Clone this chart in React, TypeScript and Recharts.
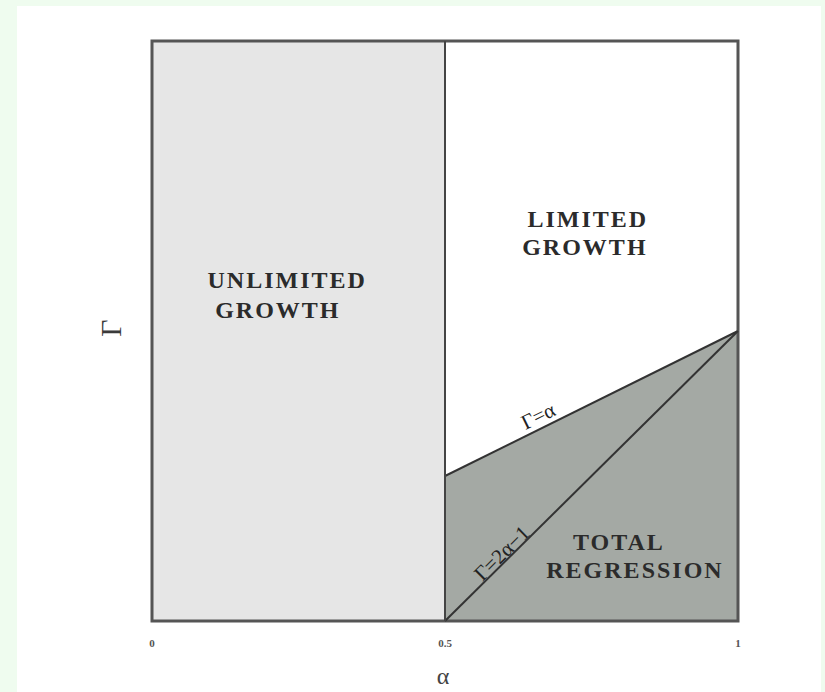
import React from 'react';
import {
  ComposedChart,
  XAxis,
  YAxis,
  Area,
  Line,
  Scatter,
  ReferenceArea,
  ReferenceLine,
  Label,
} from 'recharts';

// α values at which the boundary lines are defined
const alphaPoints = [0.5, 1];
// Γ = α  (upper edge of the total-regression region)
const gammaEqualsAlpha = [0.5, 1];
// Γ = 2α − 1
const gammaTwoAlphaMinusOne = [0, 1];

const alphaTicks = [0, 0.5, 1];
const alphaTickLabels = ['0', '0.5', '1'];

// region names, one entry per text line (anchored at the line's baseline centre)
const regionLines = ['UNLIMITED', 'GROWTH', 'LIMITED', 'GROWTH', 'TOTAL', 'REGRESSION'];
const regionLineAlpha = [0.229, 0.213, 0.742, 0.737, 0.795, 0.8225];
const regionLineGamma = [1.148, 1.045, 1.359, 1.262, 0.245, 0.148];

const lineNames = ['Γ=α', 'Γ=2α−1'];
const lineNameAlpha = [0.659, 0.597];
const lineNameGamma = [0.707, 0.234];
const lineNameAngle = [-26, -44.5];

const chartData = alphaPoints.map((a, i) => ({
  alpha: a,
  edge: gammaEqualsAlpha[i],
  total: gammaTwoAlphaMinusOne[i],
}));

const regionData = regionLines.map((text, i) => ({
  alpha: regionLineAlpha[i],
  gamma: regionLineGamma[i],
  text,
}));

const lineNameData = lineNames.map((name, i) => ({
  alpha: lineNameAlpha[i],
  gamma: lineNameGamma[i],
  name,
  angle: lineNameAngle[i],
}));

const SERIF = '"Liberation Serif", "Times New Roman", "DejaVu Serif", serif';

const RegionLabel = (props: any) => {
  const { cx, cy, payload } = props;
  if (cx == null || cy == null) return null;
  return (
    <text
      x={cx + 1}
      y={cy}
      textAnchor="middle"
      fontFamily={SERIF}
      fontWeight="bold"
      fontSize={24}
      letterSpacing={2}
      fill="#2b2b2b"
    >
      {payload.text}
    </text>
  );
};

const LineNameLabel = (props: any) => {
  const { cx, cy, payload } = props;
  if (cx == null || cy == null) return null;
  return (
    <text
      x={cx}
      y={cy}
      textAnchor="middle"
      dominantBaseline="central"
      transform={`rotate(${payload.angle} ${cx} ${cy})`}
      fontFamily={SERIF}
      fontSize={21}
      fill="#222"
    >
      {payload.name}
    </text>
  );
};

const AlphaTick = (props: any) => {
  const { x, y, payload } = props;
  const idx = alphaTicks.indexOf(payload.value);
  return (
    <text
      x={x}
      y={y + 22}
      textAnchor="middle"
      dominantBaseline="central"
      fontFamily={SERIF}
      fontWeight="bold"
      fontSize={11}
      fill="#555"
    >
      {idx >= 0 ? alphaTickLabels[idx] : payload.value}
    </text>
  );
};

const AlphaAxisLabel = (props: any) => {
  const vb = props.viewBox || { x: 152, y: 621, width: 586, height: 71 };
  const cx = vb.x + vb.width / 2 - 2;
  const cy = vb.y + 55;
  return (
    <text x={cx} y={cy} textAnchor="middle" dominantBaseline="central" fontFamily={SERIF} fontSize={24} fill="#444">
      α
    </text>
  );
};

const GammaAxisLabel = (props: any) => {
  const vb = props.viewBox || { x: 0, y: 41, width: 152, height: 580 };
  const cx = vb.x + vb.width - 42;
  const cy = vb.y + vb.height / 2 - 3;
  return (
    <text
      x={cx}
      y={cy}
      textAnchor="middle"
      dominantBaseline="central"
      transform={`rotate(-90 ${cx} ${cy})`}
      fontFamily={SERIF}
      fontSize={30}
      fill="#3a3a3a"
    >
      Γ
    </text>
  );
};

export default function App() {
  return (
    <div
      style={{
        position: 'absolute',
        left: 0,
        top: 0,
        width: 825,
        height: 692,
        background: '#effcef',
        overflow: 'hidden',
      }}
    >
      <div
        style={{
          position: 'absolute',
          left: 17,
          top: 6,
          width: 804,
          height: 700,
          background: '#ffffff',
        }}
      />
      <div style={{ position: 'absolute', left: 0, top: 0 }}>
        <ComposedChart
          width={825}
          height={692}
          data={chartData}
          margin={{ top: 41, right: 87, bottom: 0, left: 0 }}
        >
          <XAxis
            dataKey="alpha"
            type="number"
            domain={[0, 1]}
            ticks={alphaTicks}
            axisLine={false}
            tickLine={false}
            tickSize={0}
            tickMargin={0}
            height={71}
            tick={<AlphaTick />}
            label={<Label content={AlphaAxisLabel} />}
          />
          <YAxis
            type="number"
            domain={[0, 2]}
            width={152}
            tick={false}
            axisLine={false}
            tickLine={false}
            label={<Label content={GammaAxisLabel} />}
          />
          <ReferenceArea x1={0} x2={0.5} y1={0} y2={2} fill="#e6e6e6" fillOpacity={1} stroke="none" />
          <Area
            type="linear"
            dataKey="edge"
            stroke="#333"
            strokeWidth={2}
            fill="#a4a9a4"
            fillOpacity={1}
            baseValue={0}
            dot={false}
            activeDot={false}
            isAnimationActive={false}
          />
          <Line
            type="linear"
            dataKey="total"
            stroke="#333"
            strokeWidth={2}
            dot={false}
            activeDot={false}
            isAnimationActive={false}
          />
          <ReferenceLine x={0.5} stroke="#444" strokeWidth={2} />
          <ReferenceArea x1={0} x2={1} y1={0} y2={2} fill="none" stroke="#555" strokeWidth={3} />
          <Scatter data={regionData} dataKey="gamma" shape={RegionLabel} isAnimationActive={false} />
          <Scatter data={lineNameData} dataKey="gamma" shape={LineNameLabel} isAnimationActive={false} />
        </ComposedChart>
      </div>
    </div>
  );
}
